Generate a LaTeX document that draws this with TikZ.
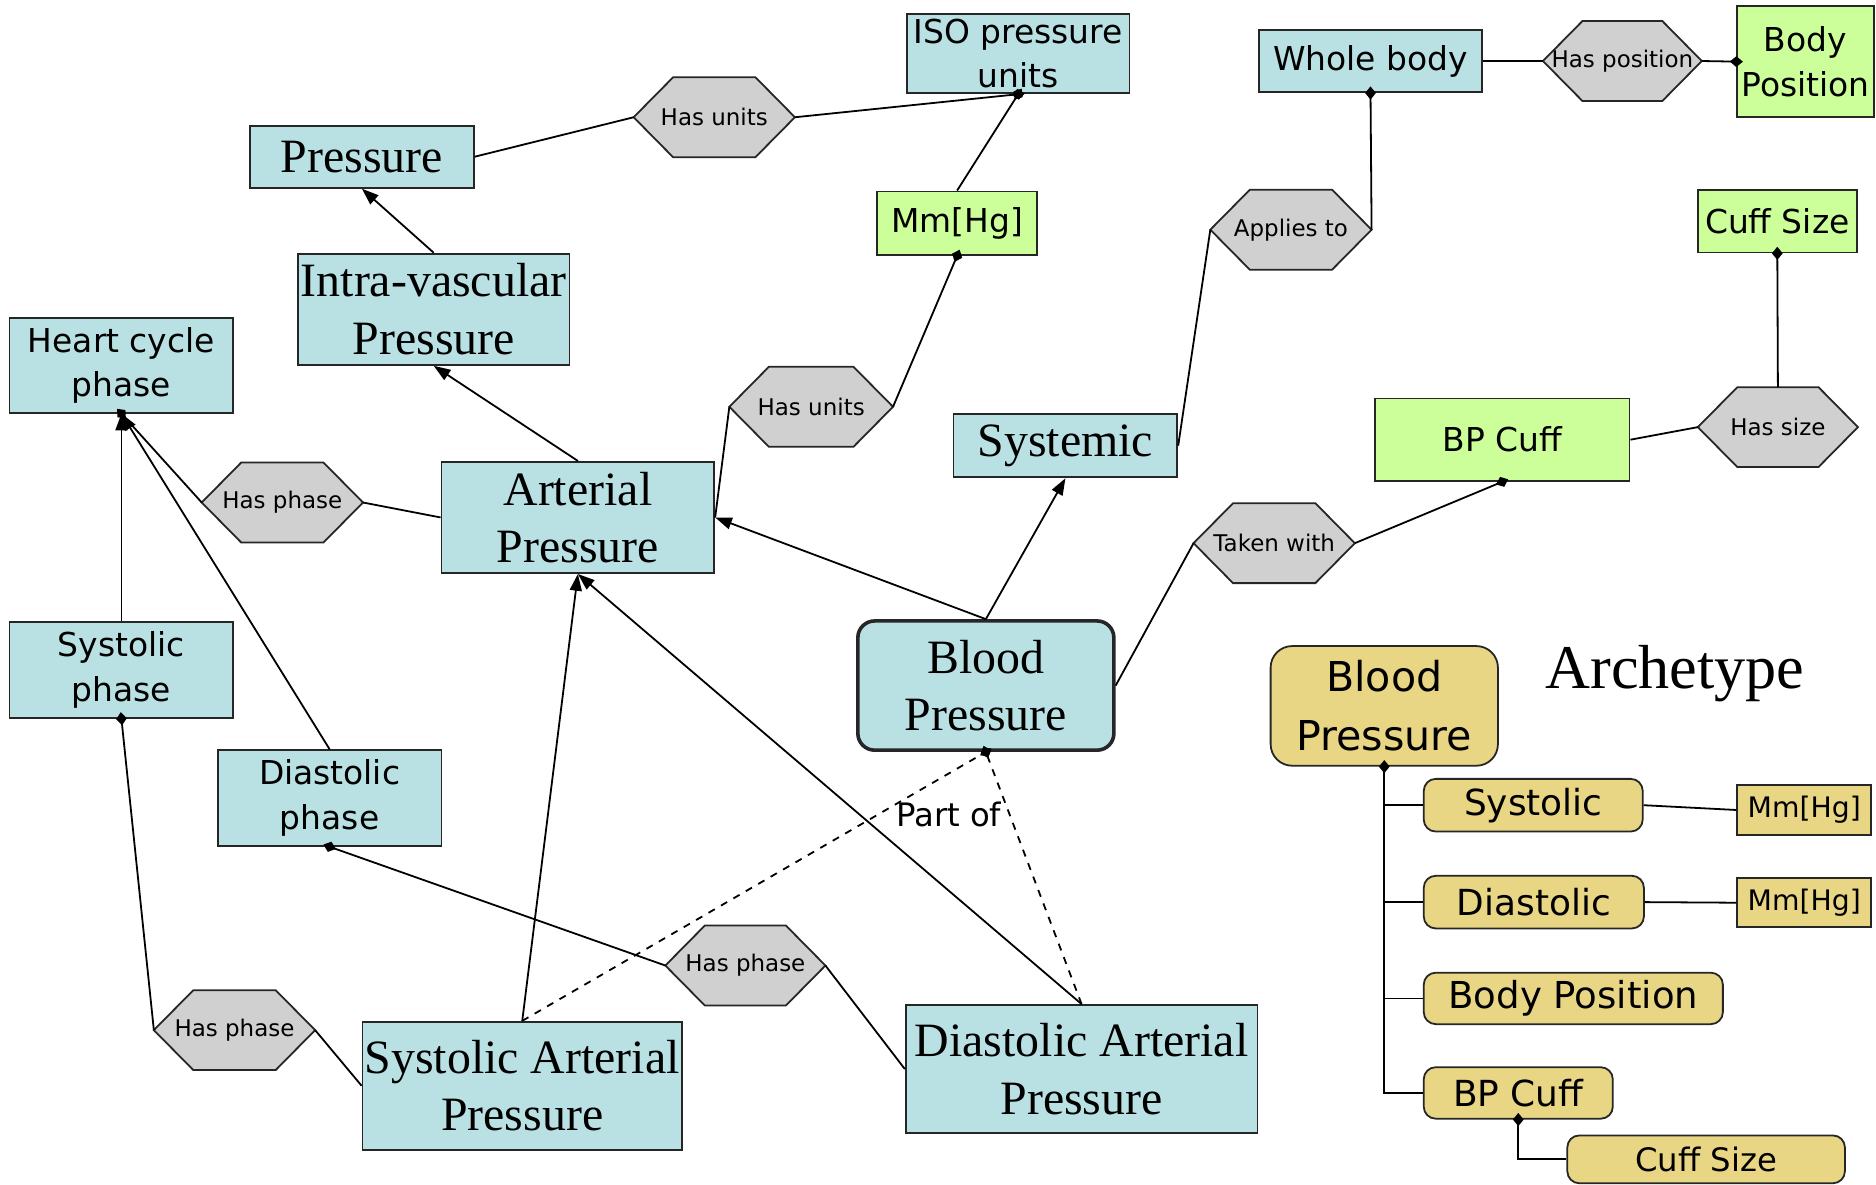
\documentclass[tikz,border=0pt]{standalone}
\usepackage{fontspec}
\setmainfont{Liberation Serif}
\setsansfont{DejaVu Sans}
\usetikzlibrary{arrows.meta}
\pgfdeclarelayer{background}
\pgfsetlayers{background,main}
\definecolor{bluefill}{HTML}{B9E0E3}
\definecolor{greenfill}{HTML}{CCFF99}
\definecolor{hexgray}{HTML}{D0D0D0}
\definecolor{yellowfill}{HTML}{E9D684}
\newcommand\myfs[2]{\fontsize{#1}{#2}\selectfont}
\begin{document}
\begin{tikzpicture}[x=0.5pt,y=-0.5pt,
  box/.style={draw=black!85, line width=0.75pt, inner sep=0pt, align=center},
  bbox/.style={box, fill=bluefill},
  gbox/.style={box, fill=greenfill},
  ybox/.style={box, fill=yellowfill, rounded corners=5pt},
  serifbig/.style={font=\rmfamily\myfs{20}{24}},
  sansbig/.style={font=\sffamily\myfs{13.75}{18.5}},
  hexa/.style={shape=rectangle, inner sep=0pt,
    minimum width=67pt, minimum height=33pt, font=\sffamily\myfs{9.6}{11}},
  hexshape/.style={fill=hexgray, draw=black!85, line width=0.75pt},
  conn/.style={line width=0.75pt},
  arr/.style={conn, -{Triangle[length=7pt,width=5pt]}},
  dm/.style={conn, -{Diamond[length=5.5pt,width=4.5pt]}, shorten >=-2.75pt},
  dms/.style={conn, {Diamond[length=5.5pt,width=4.5pt]}-, shorten <=-2.75pt},
]
\useasboundingbox (0,0) rectangle (1568,990);

% concept nodes
\node[bbox,sansbig,minimum width=93pt,minimum height=33pt] (iso) at (851,45) {ISO pressure\\units};
\node[bbox,serifbig,minimum width=93.5pt,minimum height=26pt] (pressure) at (302.5,131) {Pressure};
\node[hexa] (hu1) at (597,98) {Has units};
\node[gbox,sansbig,minimum width=67pt,minimum height=26.5pt] (mm1) at (800,186.5) {Mm[Hg]};
\node[bbox,sansbig,minimum width=93.5pt,minimum height=26pt] (whole) at (1145.5,51) {Whole body};
\node[hexa,minimum width=66pt] (hpos) at (1356,51) {Has position};
\node[gbox,sansbig,minimum width=57pt,minimum height=46.5pt] (bodypos) at (1509,51.5) {Body\\Position};
\node[hexa] (applies) at (1079,192) {Applies to};
\node[gbox,sansbig,minimum width=66.5pt,minimum height=26pt] (cuffsize) at (1485.5,185) {Cuff Size};
\node[bbox,serifbig,minimum width=113.5pt,minimum height=46.5pt] (intra) at (362.5,258.5) {Intra-vascular\\Pressure};
\node[bbox,sansbig,minimum width=93.5pt,minimum height=39.5pt] (heart) at (101.5,305.5) {Heart cycle\\phase};
\node[hexa,minimum width=68pt] (hu2) at (678,340) {Has units};
\node[bbox,serifbig,minimum width=93.5pt,minimum height=26.5pt] (systemic) at (890.5,372.5) {Systemic};
\node[gbox,sansbig,minimum width=106.5pt,minimum height=34.5pt] (bpcuff) at (1255.5,367.5) {BP Cuff};
\node[hexa,minimum width=66.5pt] (hsize) at (1486,357) {Has size};
\node[hexa] (hp1) at (236,420) {Has phase};
\node[bbox,serifbig,minimum width=114pt,minimum height=46.5pt] (arterial) at (483,432.5) {Arterial\\Pressure};
\node[hexa] (taken) at (1065,454) {Taken with};
\node[bbox,serifbig,line width=1.5pt,rounded corners=7pt,minimum width=107pt,minimum height=54pt] (bp) at (824,573) {Blood\\Pressure};
\node[bbox,sansbig,minimum width=93.5pt,minimum height=40pt] (sysph) at (101.5,560) {Systolic\\phase};
\node[bbox,sansbig,minimum width=93.5pt,minimum height=40pt] (diaph) at (275.5,667) {Diastolic\\phase};
\node[hexa,minimum width=66.5pt] (hp2) at (623,807) {Has phase};
\node[hexa] (hp3) at (196,861) {Has phase};
\node[bbox,serifbig,minimum width=133.5pt,minimum height=53.5pt] (sap) at (436.5,907.5) {Systolic Arterial\\Pressure};
\node[bbox,serifbig,minimum width=147pt,minimum height=53.5pt] (dap) at (904,893.5) {Diastolic Arterial\\Pressure};
\node[font=\sffamily\myfs{13.5}{16}] (partof) at (793,681) {Part of};

% hexagon outlines behind the relation labels
\begin{pgfonlayer}{background}
\foreach \h in {hu1,hpos,applies,hu2,hsize,hp1,taken,hp2,hp3}{
  \draw[hexshape] (\h.west) -- ([xshift=16.5pt]\h.north west) -- ([xshift=-16.5pt]\h.north east)
    -- (\h.east) -- ([xshift=-16.5pt]\h.south east) -- ([xshift=16.5pt]\h.south west) -- cycle;
}
\end{pgfonlayer}

% archetype
\node[ybox,rounded corners=9pt,font=\sffamily\myfs{17.2}{24.5},minimum width=95pt,minimum height=50pt] (abp) at (1157,590) {Blood\\Pressure};
\node[font=\rmfamily\myfs{26}{30}] (archlbl) at (1400,563) {Archetype};
\node[ybox,font=\sffamily\myfs{15}{18},minimum width=91.5pt,minimum height=22pt] (asys) at (1281.5,673) {Systolic};
\node[box,fill=yellowfill,font=\sffamily\myfs{11.8}{14},minimum width=56pt,minimum height=21pt] (amm1) at (1508,677) {Mm[Hg]};
\node[ybox,font=\sffamily\myfs{15}{18},minimum width=92pt,minimum height=22pt] (adia) at (1282,754) {Diastolic};
\node[box,fill=yellowfill,font=\sffamily\myfs{11.8}{14},minimum width=56pt,minimum height=20.5pt] (amm2) at (1508,754.5) {Mm[Hg]};
\node[ybox,font=\sffamily\myfs{15.5}{18},minimum width=125pt,minimum height=21.5pt] (abody) at (1315,834.5) {Body Position};
\node[ybox,font=\sffamily\myfs{15}{18},minimum width=79pt,minimum height=21.5pt] (acuff) at (1269,913.5) {BP Cuff};
\node[ybox,font=\sffamily\myfs{13.5}{16},minimum width=116pt,minimum height=20pt] (asize) at (1426,969) {Cuff Size};

% connectors
\draw[conn] (pressure.east) -- (hu1.west);
\draw[dm] (hu1.east) -- (iso.south);
\draw[dm] (mm1.north) -- (iso.south);
\draw[dm] (hu2.east) -- (mm1.south);
\draw[conn] (arterial.east) -- (hu2.west);
\draw[arr] (intra.north) -- (pressure.south);
\draw[arr] (arterial.north) -- (intra.south);
\draw[arr] (sysph.north) -- (heart.south);
\draw[arr] (diaph.north) -- (heart.south);
\draw[dm] (hp1.west) -- (heart.south);
\draw[conn] (hp1.east) -- (arterial.west);
\draw[dms] (sysph.south) -- (hp3.west);
\draw[conn] (hp3.east) -- (sap.west);
\draw[arr] (sap.north) -- (arterial.south);
\draw[dms] (diaph.south) -- (hp2.west);
\draw[conn] (hp2.east) -- (dap.west);
\draw[arr] (dap.north) -- (arterial.south);
\draw[arr] (bp.north) -- (arterial.east);
\draw[arr] (bp.north) -- (systemic.south);
\draw[conn] (systemic.east) -- (applies.west);
\draw[dm] (applies.east) -- (whole.south);
\draw[conn] (whole.east) -- (hpos.west);
\draw[dm] (hpos.east) -- (bodypos.west);
\draw[conn] (bp.east) -- (taken.west);
\draw[dm] (taken.east) -- (bpcuff.south);
\draw[conn] (bpcuff.east) -- (hsize.west);
\draw[dm] (hsize.north) -- (cuffsize.south);
\draw[dm,dashed] (sap.north) -- (bp.south);
\draw[dm,dashed] (dap.north) -- (bp.south);

% archetype tree
\draw[dms] (abp.south) |- (acuff.west);
\draw[conn] (abp.south |- asys.west) -- (asys.west);
\draw[conn] (abp.south |- adia.west) -- (adia.west);
\draw[conn] (abp.south |- abody.west) -- (abody.west);
\draw[conn] (asys.east) -- (amm1.west);
\draw[conn] (adia.east) -- (amm2.west);
\draw[dms] (acuff.south) |- (asize.west);
\end{tikzpicture}
\end{document}
